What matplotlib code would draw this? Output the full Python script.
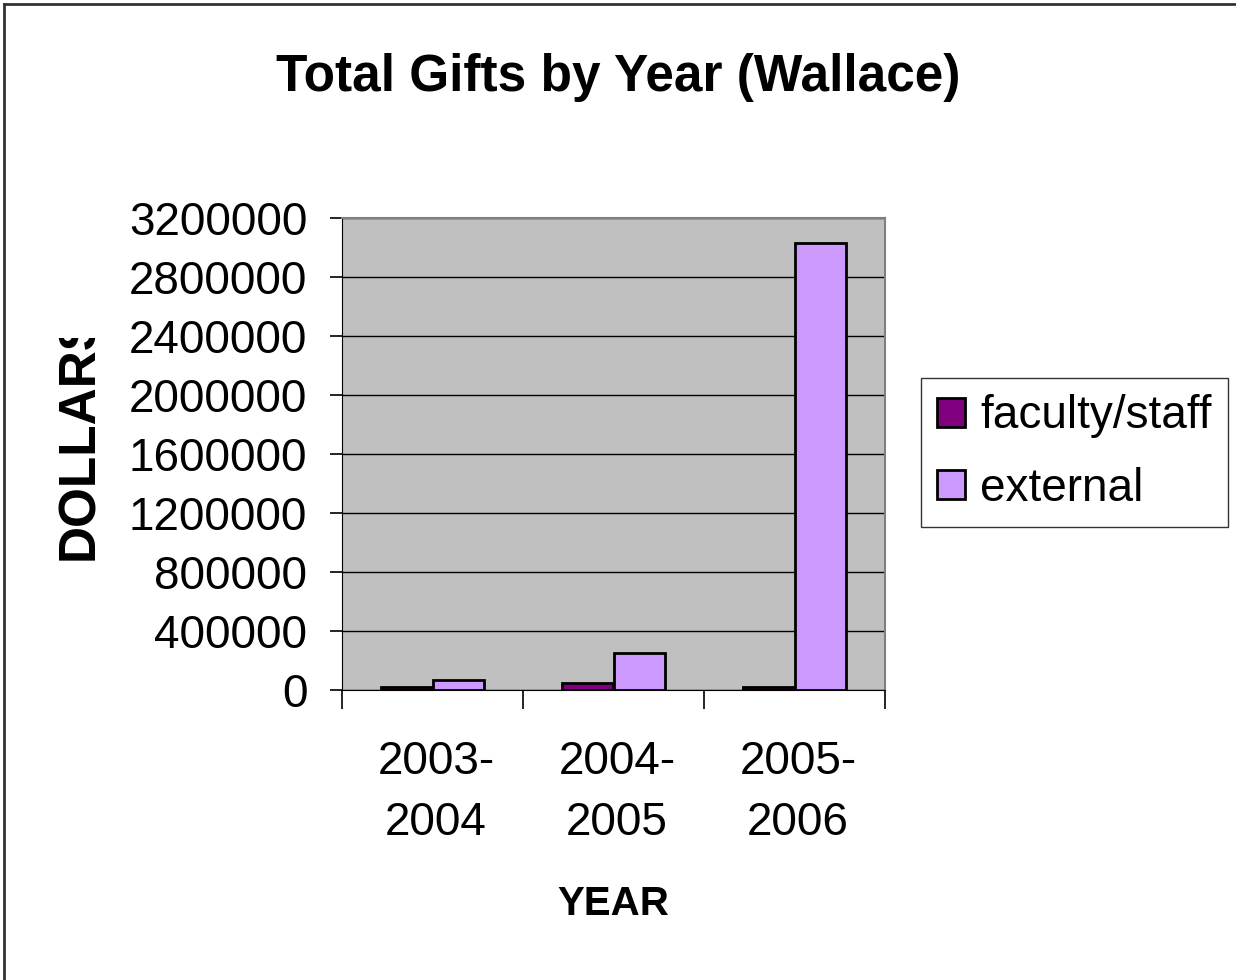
import numpy as np
import matplotlib.pyplot as plt
from matplotlib.lines import Line2D
from matplotlib.ticker import StrMethodFormatter
from matplotlib.transforms import Bbox, TransformedBbox

plt.rcParams['font.family'] = ['Liberation Sans', 'DejaVu Sans']

# gift totals per fiscal year
years = ['2003-\n2004', '2004-\n2005', '2005-\n2006']
faculty_staff = [20000, 45000, 20000]
external = [65000, 250000, 3030000]

W, H = 1236, 980
fig = plt.figure(figsize=(W / 100, H / 100), dpi=100)
ax = fig.add_axes([342 / W, 1 - 690 / H, 543 / W, 472 / H])

x = np.arange(len(years))
w = 0.286
ax.bar(x - w / 2, faculty_staff, w, color='#800080', edgecolor='black',
       linewidth=2, label='faculty/staff', zorder=3)
ax.bar(x + w / 2, external, w, color='#CC99FF', edgecolor='black',
       linewidth=2, label='external', zorder=3)

ax.set_facecolor('#C0C0C0')
ax.set_xlim(-0.5, 2.5)
ax.set_ylim(0, 3200000)
ax.set_yticks(np.arange(0, 3200001, 400000))
ax.yaxis.set_major_formatter(StrMethodFormatter('{x:.0f}'))
ax.yaxis.grid(True, color='black', linewidth=1)
ax.set_axisbelow(True)

# category boundaries get the tick marks, names sit in between
ax.set_xticks([-0.5, 0.5, 1.5, 2.5])
ax.set_xticklabels([])
ax.set_xticks(x + 0.02, minor=True)
ax.set_xticklabels(years, minor=True, fontsize=33, linespacing=1.5)
ax.tick_params(axis='x', which='major', length=14, width=1.2, color='black')
ax.tick_params(axis='x', which='minor', length=0, pad=36)
ax.tick_params(axis='y', length=9, width=1.2, labelsize=33, pad=16)

for side in ['top', 'right']:
    ax.spines[side].set_color('#808080')
    ax.spines[side].set_linewidth(1.5)
ax.spines['left'].set_color('black')
ax.spines['bottom'].set_color('black')

ax.set_xlabel('YEAR', fontsize=29, fontweight='bold', labelpad=29)

fig.text(0.5, 1 - 77 / H, 'Total Gifts by Year (Wallace)', ha='center', va='center',
         fontsize=37, fontweight='bold')

# axis title is cut off where the chart area starts
ylab = fig.text(80 / W, 1 - 436 / H, 'DOLLARS', rotation=90, ha='center', va='center',
                fontsize=37, fontweight='bold')
ylab.set_clip_box(TransformedBbox(Bbox([[0, 0], [1, 1 - 338 / H]]), fig.transFigure))
ylab.set_clip_on(True)

leg = ax.legend(loc='center left', bbox_to_anchor=(1.066, 0.503), fontsize=33,
                frameon=True, fancybox=False, edgecolor='black',
                handlelength=0.6, handleheight=0.6, handletextpad=0.33,
                borderpad=0.36, labelspacing=0.62, borderaxespad=0)
leg.get_frame().set_linewidth(1)

# outer frame, left and top edges only
fig.add_artist(Line2D([4 / W, 4 / W], [0, 1 - 4 / H], transform=fig.transFigure,
                      color='#333333', linewidth=2))
fig.add_artist(Line2D([4 / W, 1], [1 - 4 / H, 1 - 4 / H], transform=fig.transFigure,
                      color='#333333', linewidth=2))

fig.savefig('out.png', dpi=100)
